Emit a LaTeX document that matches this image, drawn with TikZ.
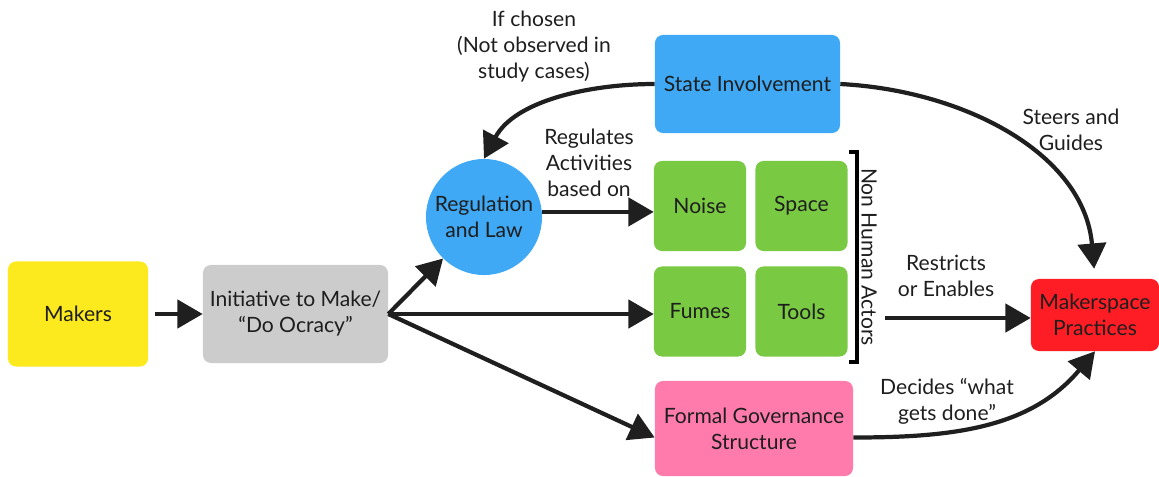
\documentclass[tikz,border=0pt]{standalone}
\usepackage{fontspec}
\setmainfont{Lato}
\usetikzlibrary{arrows.meta,calc}

\definecolor{makeryellow}{HTML}{FCEA1E}
\definecolor{initgray}{HTML}{CCCCCC}
\definecolor{stateblue}{HTML}{3FA9F5}
\definecolor{actorgreen}{HTML}{7AC943}
\definecolor{practicered}{HTML}{FF1D25}
\definecolor{govpink}{HTML}{FF7BAC}
\definecolor{inkgray}{HTML}{1E1E1E}

\tikzset{
    box/.style={rounded corners=0.2cm, align=center, inner sep=0pt,
        text=inkgray, font=\fontsize{15}{18.5}\selectfont},
    actor/.style={box, fill=actorgreen, minimum width=2.3cm, minimum height=2.25cm},
    lbl/.style={align=center, text=inkgray, font=\fontsize{15}{18.5}\selectfont},
    arr/.style={line width=3pt, draw=black!88,
        -{Triangle[length=18pt,width=20pt]}},
}

\begin{document}
\begin{tikzpicture}[x=0.025cm,y=-0.025cm]
                \useasboundingbox (0,0) rectangle (1159,476);
                % boxes
                \node[box, fill=makeryellow, minimum width=3.5cm, minimum height=2.625cm] (makers) at (78,314) {Makers};
                \node[box, fill=initgray, minimum width=4.625cm, minimum height=2.45cm] (init) at (295.5,314) {Initiative to Make/\\“Do Ocracy”};
                \node[box, circle, fill=stateblue, minimum size=2.9cm] (reg) at (484,217) {Regulation\\and Law};
                \node[box, fill=stateblue, minimum width=4.625cm, minimum height=2.45cm] (state) at (747.5,84) {State Involvement};
                \node[actor] (noise) at (700,206) {Noise};
                \node[actor] (space) at (801.5,206) {Space};
                \node[actor] (fumes) at (700,311.5) {Fumes};
                \node[actor] (tools) at (801.5,311.5) {Tools};
                \node[box, fill=practicered, minimum width=3.2cm, minimum height=1.8cm] (mp) at (1095,315) {Makerspace\\Practices};
                \node[box, fill=govpink, minimum width=4.95cm, minimum height=2.375cm] (formal) at (754,428.5) {Formal Governance\\Structure};

                % bracket round the non human actors
                \coordinate (brtop) at (849,152);
                \coordinate (brbot) at (849,362);
                \draw[line width=2.2pt] (brtop) -| (857,362) -- (brbot);
                \node[lbl, rotate=-90] (nha) at (869,257) {Non Human Actors};

                % labels
                \node[lbl] (chosen) at (534,47) {If chosen\\(Not observed in\\study cases)};
                \node[lbl] (regulates) at (589,163) {Regulates\\Activities\\based on};
                \node[lbl] (steers) at (1071,130) {Steers and\\Guides};
                \node[lbl] (restricts) at (946,276) {Restricts\\or Enables};
                \node[lbl] (decides) at (947,401) {Decides “what\\gets done”};

                % arrows
                \draw[arr, shorten <=0.175cm] (makers) -- (init);
                \draw[arr] (init.east) -- (reg);
                \draw[arr] (init.east) -- (init.east -| fumes.west);
                \draw[arr] (init.east) -- ($(formal.west)+(0,9)$);
                \draw[arr] (reg.5) -- (reg.5 -| noise.west);
                \draw[arr] (state.west) to[out=180,in=62,looseness=0.9] (reg.north);
                \draw[arr, shorten >=0.25cm] (state.east) to[out=-3,in=95] (mp.north);
                \coordinate (nastart) at (885,318);
                \draw[arr] (nastart) -- (nastart -| mp.west);
                \draw[arr] ($(formal.east)+(0,9)$) to[out=0,in=-130] (mp.south);
            \end{tikzpicture}
\end{document}
